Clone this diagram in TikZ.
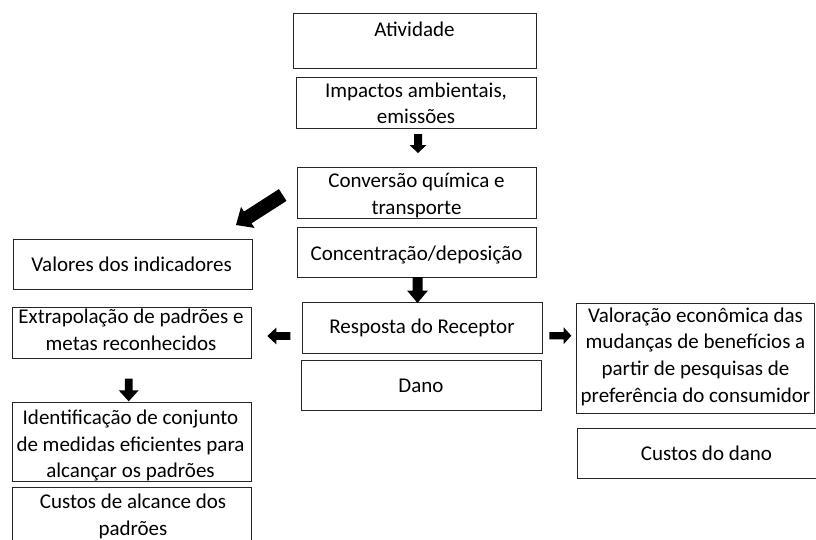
\documentclass[tikz,border=0pt]{standalone}
\usepackage{fontspec}
\setmainfont{Carlito}
\newcommand{\blkarrow}[6]{% #1 start, #2 angle, #3 length, #4 shaft half width, #5 head half width, #6 head length
  \fill[black, shift={#1}, rotate=#2] (0,-#4) -- ({#3-#6},-#4) -- ({#3-#6},-#5) -- (#3,0) -- ({#3-#6},#5) -- ({#3-#6},#4) -- (0,#4) -- cycle;}
\begin{document}
\begin{tikzpicture}[x=1pt,y=-1pt,
  box/.style={draw=black!85, line width=0.9pt, inner sep=0pt, anchor=north west},
  txt/.style={inner sep=0pt, anchor=north, align=center,
    font=\fontsize{21}{26.7}\selectfont, execute at begin node=\rule{0pt}{17pt}},
]
\useasboundingbox (0,0) rectangle (816,539);

% boxes
\node[box, minimum width=243pt, minimum height=55pt] (atv) at (293,13) {};
\node[box, minimum width=240pt, minimum height=51pt] (imp) at (296,77) {};
\node[box, minimum width=239pt, minimum height=51pt] (conv) at (297,167) {};
\node[box, minimum width=239pt, minimum height=50pt] (conc) at (297,227) {};
\node[box, minimum width=240pt, minimum height=51pt] (resp) at (302,302) {};
\node[box, minimum width=240pt, minimum height=50pt] (dano) at (301,360) {};
\node[box, minimum width=238pt, minimum height=110pt] (valo) at (576,303) {};
\node[box, minimum width=260pt, minimum height=50pt] (cdano) at (577,428) {};
\node[box, minimum width=239pt, minimum height=50pt] (val) at (13,239) {};
\node[box, minimum width=239pt, minimum height=51pt] (extr) at (12,307) {};
\node[box, minimum width=239pt, minimum height=79pt] (ident) at (12,402) {};
\node[box, minimum width=239pt, minimum height=60pt] (calc) at (12,487) {};

% texts
\node[txt] (tatv) at (414.5,19) {Atividade};
\node[txt] (timp) at (416,82.5) {Impactos ambientais,\\emissões};
\node[txt] (tconv) at (416.5,173) {Conversão química e\\transporte};
\node[txt] (tconc) at (416.5,243) {Concentração/deposição};
\node[txt] (tresp) at (422,316.5) {Resposta do Receptor};
\node[txt] (tdano) at (421,375.5) {Dano};
\node[txt] (tvalo) at (695.5,307.5) {Valoração econômica das\\mudanças de benefícios a\\partir de pesquisas de\\preferência do consumidor};
\node[txt] (tcdano) at (706.5,443) {Custos do dano};
\node[txt] (tval) at (131.7,254) {Valores dos indicadores};
\node[txt] (textr) at (131,309) {Extrapolação de padrões e\\metas reconhecidos};
\node[txt] (tident) at (130.5,409.7) {Identificação de conjunto\\de medidas eficientes para\\alcançar os padrões};
\node[txt] (tcalc) at (133,493.7) {Custos de alcance dos\\padrões};

% block arrows
\blkarrow{(418,134)}{-90}{19}{4}{8.5}{8}
\blkarrow{(417.5,277)}{-90}{26}{5}{10.5}{12.5}
\blkarrow{(290.3,336)}{180}{23}{3.9}{8.4}{9}
\blkarrow{(549.3,335.7)}{0}{22}{3.6}{8.4}{7.6}
\blkarrow{(128.7,378.7)}{-90}{22.6}{3.8}{10}{11}
\blkarrow{(282.7,195)}{212.7}{55.5}{7}{12.5}{14}
\end{tikzpicture}
\end{document}
